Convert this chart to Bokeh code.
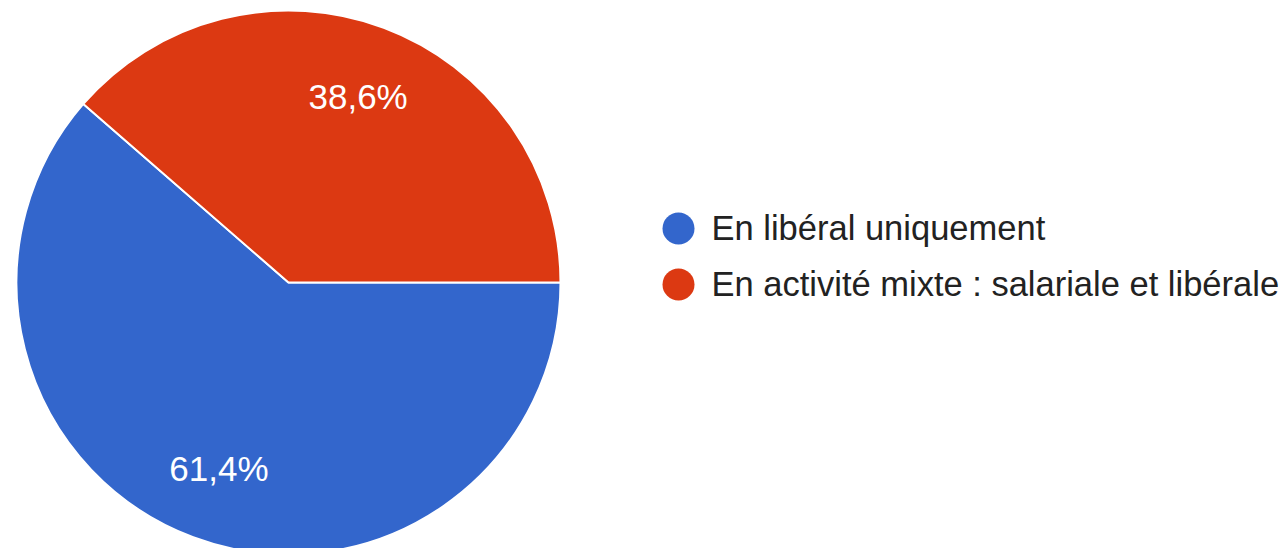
import math
from bokeh.plotting import figure
from bokeh.models import Range1d, ColumnDataSource
from bokeh.core.properties import value
from bokeh.embed import file_html
from bokeh.resources import INLINE

# ---- data ----
categories = ["En libéral uniquement", "En activité mixte : salariale et libérale"]
percents = [61.4, 38.6]
labels = ["61,4%", "38,6%"]
colors = ["#3366CC", "#DC3912"]

# ---- layout (1 unit = 1 px) ----
W, H = 1280, 548
cx, cy, R = 288, H - 282, 272
FONT = "Liberation Sans"

p = figure(width=W, height=H, output_backend="svg", toolbar_location=None,
           x_range=Range1d(0, W), y_range=Range1d(0, H), min_border=0)
p.axis.visible = False
p.grid.visible = False
p.outline_line_color = None
p.background_fill_color = "white"
p.border_fill_color = "white"

# pie slices: clockwise from 3 o'clock
total = sum(percents)
starts, ends, lx, ly = [], [], [], []
a = 0.0
for v in percents:
    span = v / total * 2 * math.pi
    starts.append(a - span)
    ends.append(a)
    mid = a - span / 2
    lx.append(cx + 0.73 * R * math.cos(mid))
    ly.append(cy + 0.73 * R * math.sin(mid))
    a -= span

src = ColumnDataSource(dict(start=starts, end=ends, color=colors, lx=lx, ly=ly, label=labels))
p.wedge(x=cx, y=cy, radius=R, start_angle="start", end_angle="end",
        fill_color="color", line_color="white", line_width=2, source=src)

p.text(x="lx", y="ly", text="label", source=src, text_color="white",
       text_font=value(FONT), text_font_size="35px", text_align="center",
       text_baseline="alphabetic", y_offset=0)

# legend
leg_x, leg_y0, leg_dy = 678, H - 228, 56
lg = ColumnDataSource(dict(
    x=[leg_x] * len(categories),
    y=[leg_y0 - i * leg_dy for i in range(len(categories))],
    tx=[leg_x + 33] * len(categories),
    name=categories, color=colors))
p.scatter(x="x", y="y", source=lg, marker="circle", size=32,
          fill_color="color", line_color=None)
p.text(x="tx", y="y", text="name", source=lg, text_color="#222222",
       text_font=value(FONT), text_font_size="34.5px", text_align="left",
       text_baseline="alphabetic", y_offset=-1)

open("out.html", "w").write(file_html(p, INLINE))
